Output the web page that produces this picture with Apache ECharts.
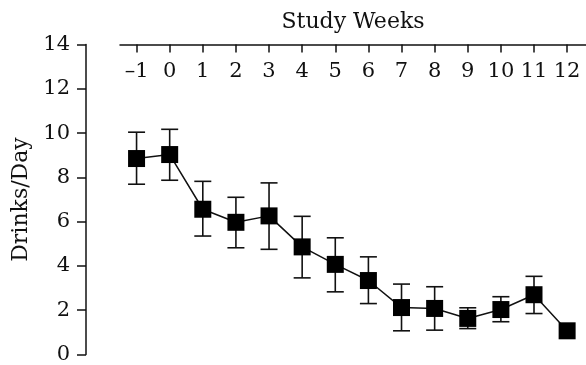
<!DOCTYPE html>
<html><head><meta charset="utf-8">
<script src="https://cdn.jsdelivr.net/npm/echarts@6/dist/echarts.min.js"></script>
<style>html,body{margin:0;padding:0;background:#fff}#c{width:586px;height:365px}</style>
</head><body><div id="c"></div>
<script>
const weeks = [-1,0,1,2,3,4,5,6,7,8,9,10,11,12];
const weekLabels = ['\u20131','0','1','2','3','4','5','6','7','8','9','10','11','12'];
const means = [8.85,9.03,6.56,5.97,6.26,4.86,4.07,3.34,2.12,2.08,1.63,2.03,2.70,1.07];
const upper = [10.04,10.17,7.82,7.10,7.75,6.24,5.27,4.41,3.18,3.06,2.11,2.61,3.53,null];
const lower = [7.69,7.87,5.35,4.82,4.75,3.46,2.83,2.30,1.07,1.10,1.17,1.48,1.85,null];
const yTicks = [0,2,4,6,8,10,12,14];

const font = 'DejaVu Serif';
const chart = echarts.init(document.getElementById('c'));
const errData = weeks.map((w,i)=>[w, lower[i], upper[i]]).filter(d=>d[1]!=null);
chart.setOption({
  animation:false,
  grid:{left:120,right:0,top:44.5,bottom:6.7},
  xAxis:{type:'value',position:'top',min:-1.5,max:12.57,
    name:'Study Weeks',nameLocation:'middle',nameGap:11,
    nameTextStyle:{fontFamily:font,fontSize:22,color:'#111',verticalAlign:'bottom'},
    axisLine:{onZero:false,lineStyle:{color:'#111',width:1.5}},
    axisTick:{inside:true,length:8,customValues:weeks,lineStyle:{color:'#111',width:1.5}},
    axisLabel:{inside:true,margin:17,customValues:weeks,fontFamily:font,fontSize:21,color:'#111',
      formatter:v=>weekLabels[weeks.indexOf(v)]},
    splitLine:{show:false}},
  yAxis:{type:'value',min:0,max:14,interval:2,offset:34,
    name:'Drinks/Day',nameLocation:'middle',nameGap:52,
    nameTextStyle:{fontFamily:font,fontSize:22,color:'#111'},
    axisLine:{show:true,onZero:false,lineStyle:{color:'#111',width:1.5}},
    axisTick:{show:true,length:9,lineStyle:{color:'#111',width:1.5}},
    axisLabel:{margin:16,fontFamily:font,fontSize:21,color:'#111',
      formatter:v=>String(yTicks[yTicks.indexOf(v)])},
    splitLine:{show:false}},
  series:[
    {type:'custom',z:1,data:errData,
     renderItem:(params,api)=>{
       const x=api.value(0);
       const lo=api.coord([x,api.value(1)]);
       const hi=api.coord([x,api.value(2)]);
       const hw=8.5;
       const st={stroke:'#111',lineWidth:1.6};
       return {type:'group',children:[
         {type:'line',shape:{x1:lo[0],y1:lo[1],x2:hi[0],y2:hi[1]},style:st},
         {type:'line',shape:{x1:lo[0]-hw,y1:lo[1],x2:lo[0]+hw,y2:lo[1]},style:st},
         {type:'line',shape:{x1:hi[0]-hw,y1:hi[1],x2:hi[0]+hw,y2:hi[1]},style:st}
       ]};
     }},
    {type:'line',z:3,data:weeks.map((w,i)=>[w,means[i]]),
     symbol:'rect',symbolSize:17,
     itemStyle:{color:'#000'},lineStyle:{color:'#111',width:1.5}}
  ]
});
</script></body></html>
